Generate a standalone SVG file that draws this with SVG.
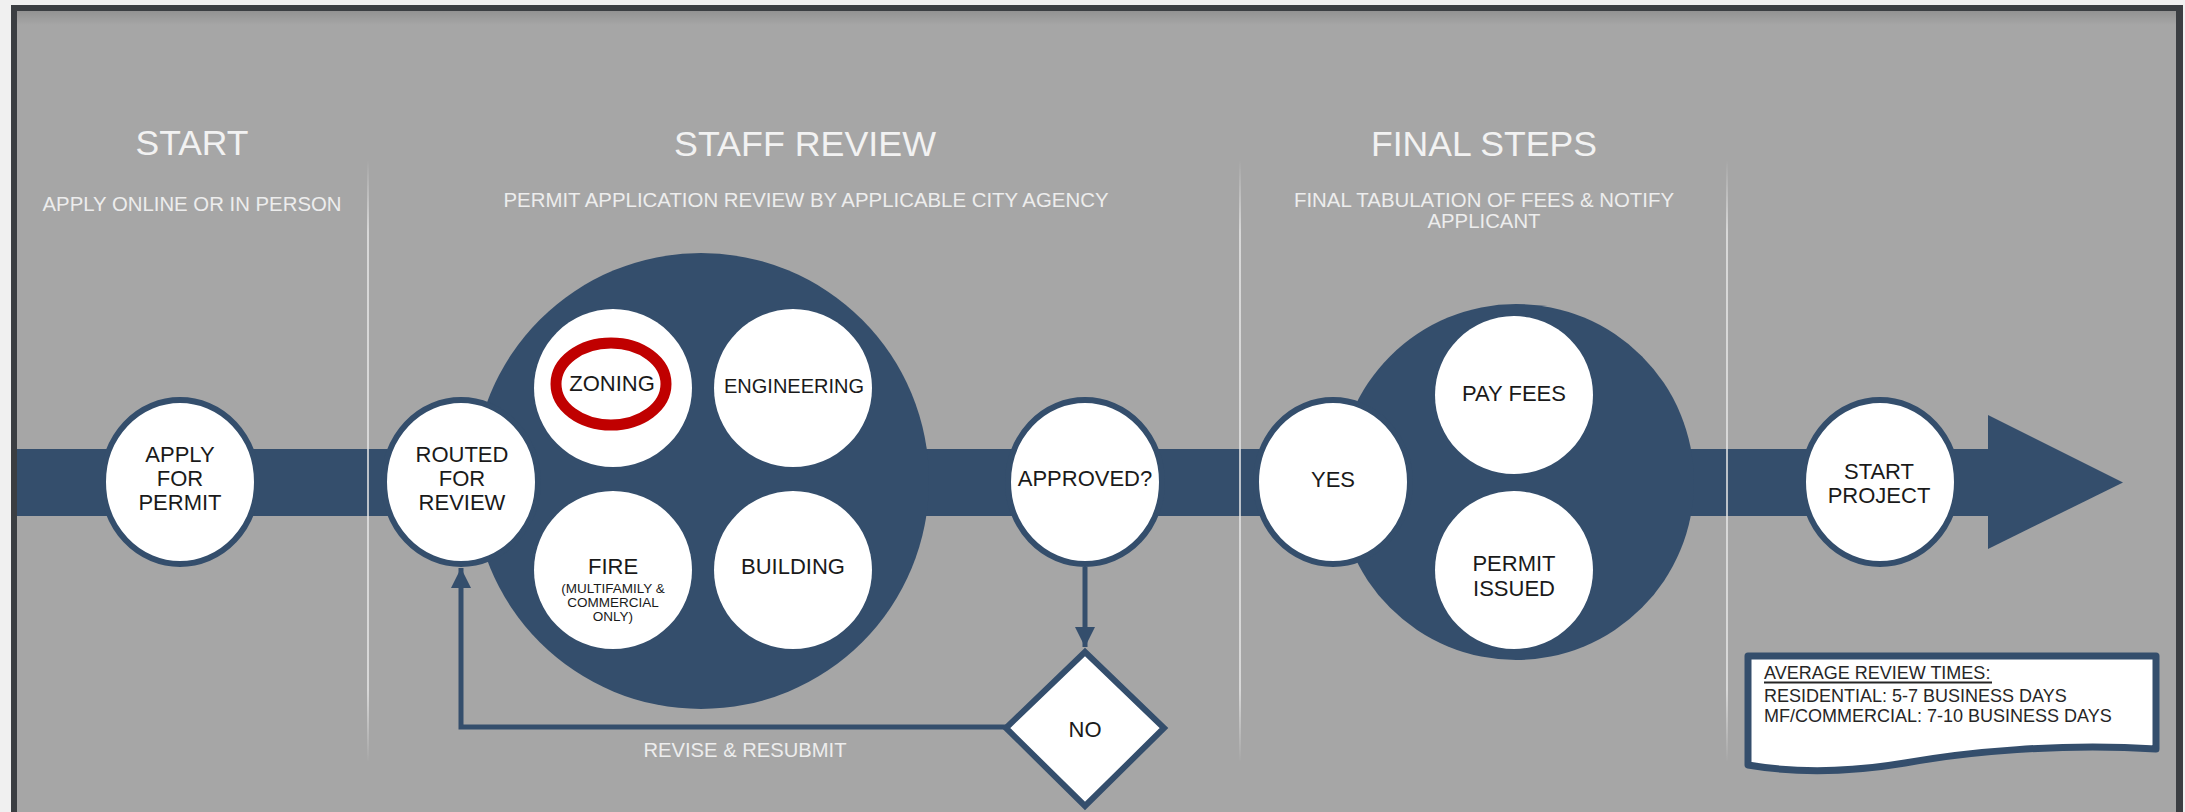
<svg xmlns="http://www.w3.org/2000/svg" width="2185" height="812" viewBox="0 0 2185 812">
  <defs>
    <style>
      .title { font-family: "Liberation Sans", Arial, sans-serif; font-size: 35.5px; fill: #f2f2f2; text-anchor: middle; }
      .sub { font-family: "Liberation Sans", Arial, sans-serif; font-size: 20px; fill: #ededed; text-anchor: middle; }
      .lbl { font-family: "Liberation Sans", Arial, sans-serif; font-size: 22px; fill: #1a1a1a; text-anchor: middle; }
      .small { font-family: "Liberation Sans", Arial, sans-serif; font-size: 13.5px; fill: #1a1a1a; text-anchor: middle; }
      .legend { font-family: "Liberation Sans", Arial, sans-serif; font-size: 18px; fill: #262626; }
      .band { fill: #344e6c; }
      .node { fill: #ffffff; stroke: #344e6c; stroke-width: 6; }
      .inner { fill: #ffffff; }
      .conn { fill: none; stroke: #344e6c; stroke-width: 5; }
      .sep { stroke: url(#sepFade); stroke-width: 2; }
    </style>
    <linearGradient id="sepFade" gradientUnits="userSpaceOnUse" x1="0" y1="160" x2="0" y2="762">
      <stop offset="0" stop-color="#e8e8e8" stop-opacity="0"/>
      <stop offset="0.12" stop-color="#e8e8e8" stop-opacity="0.75"/>
      <stop offset="0.88" stop-color="#e8e8e8" stop-opacity="0.75"/>
      <stop offset="1" stop-color="#e8e8e8" stop-opacity="0"/>
    </linearGradient>
    <linearGradient id="topShade" x1="0" y1="0" x2="0" y2="1">
      <stop offset="0" stop-color="#000000" stop-opacity="0.12"/>
      <stop offset="1" stop-color="#000000" stop-opacity="0"/>
    </linearGradient>
    <marker id="arrowHead" viewBox="0 0 20 20" refX="20" refY="10" markerWidth="20" markerHeight="20" markerUnits="userSpaceOnUse" orient="auto">
      <path d="M0,0 L20,10 L0,20 Z" fill="#344e6c"/>
    </marker>
  </defs>

  <!-- page frame -->
  <rect x="0" y="0" width="2185" height="812" fill="#f0f0f0"/>
  <rect x="11" y="5" width="2172" height="820" fill="#3b3e42"/>
  <rect x="17" y="11" width="2159" height="810" fill="#a6a6a6"/>
  <rect x="17" y="11" width="2159" height="14" fill="url(#topShade)"/>

  <!-- phase headings -->
  <g id="phase-start">
    <text class="title" x="192" y="155" textLength="113" lengthAdjust="spacingAndGlyphs">START</text>
    <text class="sub" x="192" y="211" textLength="299" lengthAdjust="spacingAndGlyphs">APPLY ONLINE OR IN PERSON</text>
  </g>
  <g id="phase-staff-review">
    <text class="title" x="805" y="156" textLength="262" lengthAdjust="spacingAndGlyphs">STAFF REVIEW</text>
    <text class="sub" x="806" y="207" textLength="605" lengthAdjust="spacingAndGlyphs">PERMIT APPLICATION REVIEW BY APPLICABLE CITY AGENCY</text>
  </g>
  <g id="phase-final-steps">
    <text class="title" x="1484" y="156" textLength="226" lengthAdjust="spacingAndGlyphs">FINAL STEPS</text>
    <text class="sub" x="1484" y="207" textLength="380" lengthAdjust="spacingAndGlyphs">FINAL TABULATION OF FEES &amp; NOTIFY</text>
    <text class="sub" x="1484" y="228" textLength="113" lengthAdjust="spacingAndGlyphs">APPLICANT</text>
  </g>

  <!-- main flow band with arrowhead -->
  <g id="flow-band">
    <rect class="band" x="17" y="449" width="1973" height="67"/>
    <polygon class="band" points="1988,415 2123,482.5 1988,549"/>
    <circle class="band" cx="701" cy="481" r="228"/>
    <circle class="band" cx="1516" cy="482" r="178"/>
  </g>

  <!-- phase separators -->
  <g id="separators">
    <line class="sep" x1="368" y1="160" x2="368" y2="762"/>
    <line class="sep" x1="1240" y1="160" x2="1240" y2="762"/>
    <line class="sep" x1="1727" y1="160" x2="1727" y2="762"/>
  </g>

  <!-- connectors -->
  <g id="connectors">
    <line class="conn" x1="1085" y1="567" x2="1085" y2="647" marker-end="url(#arrowHead)"/>
    <polyline class="conn" points="1006,727 461,727 461,568" marker-end="url(#arrowHead)"/>
    <text class="sub" x="745" y="757" textLength="203" lengthAdjust="spacingAndGlyphs">REVISE &amp; RESUBMIT</text>
  </g>

  <g id="node-apply">
    <ellipse class="node" cx="180" cy="482" rx="77" ry="82"/>
    <text class="lbl" x="180" y="462">APPLY</text>
    <text class="lbl" x="180" y="486">FOR</text>
    <text class="lbl" x="180" y="510">PERMIT</text>
  </g>

  <g id="node-routed">
    <ellipse class="node" cx="461" cy="482" rx="77" ry="82"/>
    <text class="lbl" x="462" y="462">ROUTED</text>
    <text class="lbl" x="462" y="486">FOR</text>
    <text class="lbl" x="462" y="510">REVIEW</text>
  </g>

  <g id="node-zoning">
    <circle class="inner" cx="613" cy="388" r="79"/>
    <ellipse cx="611" cy="384" rx="55" ry="41" fill="none" stroke="#c00000" stroke-width="11"/>
    <text class="lbl" x="612" y="391">ZONING</text>
  </g>

  <g id="node-engineering">
    <circle class="inner" cx="793" cy="388" r="79"/>
    <text class="lbl" x="794" y="393" style="font-size:20px">ENGINEERING</text>
  </g>

  <g id="node-fire">
    <circle class="inner" cx="613" cy="570" r="79"/>
    <text class="lbl" x="613" y="574">FIRE</text>
    <text class="small" x="613" y="593">(MULTIFAMILY &amp;</text>
    <text class="small" x="613" y="607">COMMERCIAL</text>
    <text class="small" x="613" y="621">ONLY)</text>
  </g>

  <g id="node-building">
    <circle class="inner" cx="793" cy="570" r="79"/>
    <text class="lbl" x="793" y="574">BUILDING</text>
  </g>

  <g id="node-approved">
    <ellipse class="node" cx="1085" cy="482" rx="77" ry="82"/>
    <text class="lbl" x="1085" y="486">APPROVED?</text>
  </g>

  <g id="node-no">
    <polygon class="node" points="1085,652 1164,728 1085,806 1006,728"/>
    <text class="lbl" x="1085" y="737">NO</text>
  </g>

  <g id="node-yes">
    <ellipse class="node" cx="1333" cy="482" rx="77" ry="82"/>
    <text class="lbl" x="1333" y="487">YES</text>
  </g>

  <g id="node-pay-fees">
    <circle class="inner" cx="1514" cy="395" r="79"/>
    <text class="lbl" x="1514" y="401">PAY FEES</text>
  </g>

  <g id="node-permit-issued">
    <circle class="inner" cx="1514" cy="570" r="79"/>
    <text class="lbl" x="1514" y="571">PERMIT</text>
    <text class="lbl" x="1514" y="596">ISSUED</text>
  </g>

  <g id="node-start-project">
    <ellipse class="node" cx="1880" cy="482" rx="77" ry="82"/>
    <text class="lbl" x="1879" y="479">START</text>
    <text class="lbl" x="1879" y="503">PROJECT</text>
  </g>

  <!-- review time note -->
  <g id="note-review-times">
    <path d="M1748,656 H2156 V749 C2060,743 1965,752 1905,763 C1845,773 1795,773 1748,765 Z" fill="#ffffff" stroke="#344e6c" stroke-width="7" stroke-linejoin="round"/>
    <text class="legend" x="1764" y="679">AVERAGE REVIEW TIMES:</text>
    <line x1="1764" y1="682.5" x2="1992" y2="682.5" stroke="#262626" stroke-width="2"/>
    <text class="legend" x="1764" y="702">RESIDENTIAL: 5-7 BUSINESS DAYS</text>
    <text class="legend" x="1764" y="722">MF/COMMERCIAL: 7-10 BUSINESS DAYS</text>
  </g>
</svg>
